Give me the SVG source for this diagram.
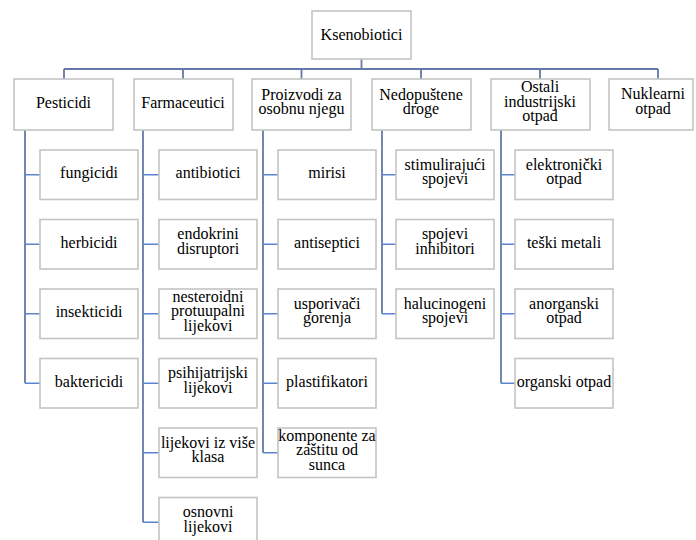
<svg xmlns="http://www.w3.org/2000/svg" width="696" height="540" viewBox="0 0 696 540">
<style>
.box{fill:#ffffff;stroke:#c4c4c4;stroke-width:1.6}
.trunk{fill:none;stroke:#6479a6;stroke-width:1.8}
.stub{fill:none;stroke:#5b86cf;stroke-width:1.5}
</style>
<rect width="696" height="540" fill="#fff"/>
<g id="connectors">
<path class="trunk" d="M361.5 59V69M64 69H658M64 69V79M183 69V79M301.5 69V79M421 69V79M540 69V79M658 69V79"/>
<path class="trunk" d="M25 130V383.25M143 130V522.25M263 130V452.75M382 130V313.75M501 130V383.25"/>
<path class="stub" d="M25 174.75H40M25 244.25H40M25 313.75H40M25 383.25H40"/>
<path class="stub" d="M143 174.75H159M143 244.25H159M143 313.75H159M143 383.25H159M143 452.75H159M143 522.25H159"/>
<path class="stub" d="M263 174.75H278M263 244.25H278M263 313.75H278M263 383.25H278M263 452.75H278"/>
<path class="stub" d="M382 174.75H396M382 244.25H396M382 313.75H396"/>
<path class="stub" d="M501 174.75H515M501 244.25H515M501 313.75H515M501 383.25H515"/>
</g>
<g id="ksenobiotici"><rect class="box" x="312" y="11" width="99" height="48"/><text font-family="Times New Roman" font-size="16" text-anchor="middle" x="361.5" y="40">Ksenobiotici</text></g>
<g id="pesticidi"><rect class="box" x="14" y="79" width="99" height="51"/><text font-family="Times New Roman" font-size="16" text-anchor="middle" x="63.5" y="108">Pesticidi</text></g>
<g id="farmaceutici"><rect class="box" x="134" y="79" width="99" height="51"/><text font-family="Times New Roman" font-size="16" text-anchor="middle" x="183" y="108">Farmaceutici</text></g>
<g id="proizvodi"><rect class="box" x="252" y="79" width="99" height="51"/><text font-family="Times New Roman" font-size="16" text-anchor="middle" x="301.5" y="99.5">Proizvodi za</text><text font-family="Times New Roman" font-size="16" text-anchor="middle" x="301.5" y="114">osobnu njegu</text></g>
<g id="nedopustene"><rect class="box" x="372" y="79" width="99" height="51"/><text font-family="Times New Roman" font-size="16" text-anchor="middle" x="421" y="99.5">Nedopuštene</text><text font-family="Times New Roman" font-size="16" text-anchor="middle" x="421" y="114">droge</text></g>
<g id="ostali"><rect class="box" x="491" y="79" width="99" height="51"/><text font-family="Times New Roman" font-size="16" text-anchor="middle" x="540" y="92.2">Ostali</text><text font-family="Times New Roman" font-size="16" text-anchor="middle" x="540" y="106.7">industrijski</text><text font-family="Times New Roman" font-size="16" text-anchor="middle" x="540" y="121.2">otpad</text></g>
<g id="nuklearni"><rect class="box" x="609" y="79" width="84" height="51"/><text font-family="Times New Roman" font-size="16" text-anchor="middle" x="653" y="99">Nuklearni</text><text font-family="Times New Roman" font-size="16" text-anchor="middle" x="653" y="113.5">otpad</text></g>

<g id="fungicidi"><rect class="box" x="40" y="150" width="98" height="49.5"/><text font-family="Times New Roman" font-size="16" text-anchor="middle" x="89" y="178.25">fungicidi</text></g>
<g id="herbicidi"><rect class="box" x="40" y="219.5" width="98" height="49.5"/><text font-family="Times New Roman" font-size="16" text-anchor="middle" x="89" y="247.75">herbicidi</text></g>
<g id="insekticidi"><rect class="box" x="40" y="289" width="98" height="49.5"/><text font-family="Times New Roman" font-size="16" text-anchor="middle" x="89" y="317.25">insekticidi</text></g>
<g id="baktericidi"><rect class="box" x="40" y="358.5" width="98" height="49.5"/><text font-family="Times New Roman" font-size="16" text-anchor="middle" x="89" y="386.75">baktericidi</text></g>

<g id="antibiotici"><rect class="box" x="159" y="150" width="98" height="49.5"/><text font-family="Times New Roman" font-size="16" text-anchor="middle" x="208" y="178.25">antibiotici</text></g>
<g id="endokrini"><rect class="box" x="159" y="219.5" width="98" height="49.5"/><text font-family="Times New Roman" font-size="16" text-anchor="middle" x="208" y="239.25">endokrini</text><text font-family="Times New Roman" font-size="16" text-anchor="middle" x="208" y="253.75">disruptori</text></g>
<g id="nesteroidni"><rect class="box" x="159" y="289" width="98" height="49.5"/><text font-family="Times New Roman" font-size="16" text-anchor="middle" x="208" y="301.5">nesteroidni</text><text font-family="Times New Roman" font-size="16" text-anchor="middle" x="208" y="316">protuupalni</text><text font-family="Times New Roman" font-size="16" text-anchor="middle" x="208" y="330.5">lijekovi</text></g>
<g id="psihijatrijski"><rect class="box" x="159" y="358.5" width="98" height="49.5"/><text font-family="Times New Roman" font-size="16" text-anchor="middle" x="208" y="378.25">psihijatrijski</text><text font-family="Times New Roman" font-size="16" text-anchor="middle" x="208" y="392.75">lijekovi</text></g>
<g id="vise-klasa"><rect class="box" x="159" y="428" width="98" height="49.5"/><text font-family="Times New Roman" font-size="16" text-anchor="middle" x="208" y="447.75">lijekovi iz više</text><text font-family="Times New Roman" font-size="16" text-anchor="middle" x="208" y="462.25">klasa</text></g>
<g id="osnovni"><rect class="box" x="159" y="497.5" width="98" height="49.5"/><text font-family="Times New Roman" font-size="16" text-anchor="middle" x="208" y="517.25">osnovni</text><text font-family="Times New Roman" font-size="16" text-anchor="middle" x="208" y="531.75">lijekovi</text></g>

<g id="mirisi"><rect class="box" x="278" y="150" width="98" height="49.5"/><text font-family="Times New Roman" font-size="16" text-anchor="middle" x="327" y="178.25">mirisi</text></g>
<g id="antiseptici"><rect class="box" x="278" y="219.5" width="98" height="49.5"/><text font-family="Times New Roman" font-size="16" text-anchor="middle" x="327" y="247.75">antiseptici</text></g>
<g id="usporivaci"><rect class="box" x="278" y="289" width="98" height="49.5"/><text font-family="Times New Roman" font-size="16" text-anchor="middle" x="327" y="308.75">usporivači</text><text font-family="Times New Roman" font-size="16" text-anchor="middle" x="327" y="323.25">gorenja</text></g>
<g id="plastifikatori"><rect class="box" x="278" y="358.5" width="98" height="49.5"/><text font-family="Times New Roman" font-size="16" text-anchor="middle" x="327" y="386.75">plastifikatori</text></g>
<g id="komponente"><rect class="box" x="278" y="428" width="98" height="49.5"/><text font-family="Times New Roman" font-size="16" text-anchor="middle" x="327" y="440.5">komponente za</text><text font-family="Times New Roman" font-size="16" text-anchor="middle" x="327" y="455">zaštitu od</text><text font-family="Times New Roman" font-size="16" text-anchor="middle" x="327" y="469.5">sunca</text></g>

<g id="stimulirajuci"><rect class="box" x="396" y="150" width="98" height="49.5"/><text font-family="Times New Roman" font-size="16" text-anchor="middle" x="445" y="169.75">stimulirajući</text><text font-family="Times New Roman" font-size="16" text-anchor="middle" x="445" y="184.25">spojevi</text></g>
<g id="inhibitori"><rect class="box" x="396" y="219.5" width="98" height="49.5"/><text font-family="Times New Roman" font-size="16" text-anchor="middle" x="445" y="239.25">spojevi</text><text font-family="Times New Roman" font-size="16" text-anchor="middle" x="445" y="253.75">inhibitori</text></g>
<g id="halucinogeni"><rect class="box" x="396" y="289" width="98" height="49.5"/><text font-family="Times New Roman" font-size="16" text-anchor="middle" x="445" y="308.75">halucinogeni</text><text font-family="Times New Roman" font-size="16" text-anchor="middle" x="445" y="323.25">spojevi</text></g>

<g id="elektronicki"><rect class="box" x="515" y="150" width="98" height="49.5"/><text font-family="Times New Roman" font-size="16" text-anchor="middle" x="564" y="169.75">elektronički</text><text font-family="Times New Roman" font-size="16" text-anchor="middle" x="564" y="184.25">otpad</text></g>
<g id="teski-metali"><rect class="box" x="515" y="219.5" width="98" height="49.5"/><text font-family="Times New Roman" font-size="16" text-anchor="middle" x="564" y="247.75">teški metali</text></g>
<g id="anorganski"><rect class="box" x="515" y="289" width="98" height="49.5"/><text font-family="Times New Roman" font-size="16" text-anchor="middle" x="564" y="308.75">anorganski</text><text font-family="Times New Roman" font-size="16" text-anchor="middle" x="564" y="323.25">otpad</text></g>
<g id="organski"><rect class="box" x="515" y="358.5" width="98" height="49.5"/><text font-family="Times New Roman" font-size="16" text-anchor="middle" x="564" y="386.75">organski otpad</text></g>
</svg>
